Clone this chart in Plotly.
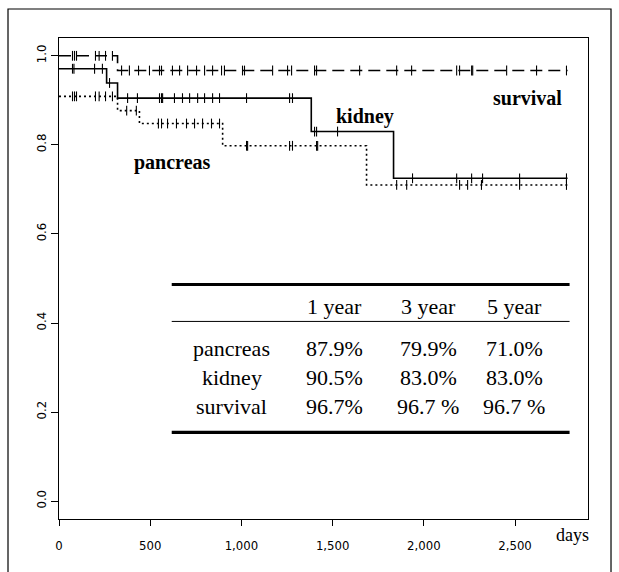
import plotly.graph_objects as go
import numpy as np

# ---- data ----
survival_t = [0, 321, 2788]
survival_s = [1.0, 0.967, 0.967]
kidney_t = [0, 261, 321, 1383, 1834, 2788]
kidney_s = [0.971, 0.939, 0.905, 0.830, 0.725, 0.725]
pancreas_t = [0, 321, 441, 897, 1686, 2788]
pancreas_s = [0.909, 0.877, 0.848, 0.798, 0.710, 0.710]

survival_censor = [74, 85, 96, 200, 220, 255, 293, 343, 386, 436, 496, 551, 562, 622, 661, 705,
                   754, 798, 842, 891, 907, 1006, 1017, 1171, 1253, 1275, 1401, 1412, 1648, 1851,
                   1933, 2180, 2196, 2262, 2268, 2454, 2618, 2782]
kidney_censor = [74, 82, 195, 238, 277, 376, 430, 551, 562, 568, 633, 677, 716, 760, 798, 842, 880,
                 1028, 1264, 1280, 1401, 1412, 1527, 1938, 2180, 2262, 2322, 2525, 2782]
pancreas_censor = [74, 85, 96, 200, 220, 255, 293, 371, 424, 545, 562, 595, 644, 699, 743, 787, 836,
                   880, 1028, 1034, 1264, 1280, 1412, 1418, 1851, 1906, 2196, 2240, 2316, 2525, 2782]

x_tickvals = [0, 500, 1000, 1500, 2000, 2500]
x_ticktext = ["0", "500", "1,000", "1,500", "2,000", "2,500"]
y_tickvals = [0.0, 0.2, 0.4, 0.6, 0.8, 1.0]
y_ticktext = ["0.0", "0.2", "0.4", "0.6", "0.8", "1.0"]

table_cols = ["1 year", "3 year", "5 year"]
table_rows = ["pancreas", "kidney", "survival"]
table_vals = [["87.9%", "79.9%", "71.0%"],
              ["90.5%", "83.0%", "83.0%"],
              ["96.7%", "96.7 %", "96.7 %"]]


def step_at(ts, ss, t):
    idx = np.searchsorted(ts, t, side="right") - 1
    return [ss[i] for i in idx]


fig = go.Figure()
series = [
    (survival_t, survival_s, survival_censor, "12px,6px"),
    (kidney_t, kidney_s, kidney_censor, "solid"),
    (pancreas_t, pancreas_s, pancreas_censor, "2px,3px"),
]
for ts, ss, cs, dash in series:
    fig.add_trace(go.Scatter(x=ts, y=ss, mode="lines", line=dict(color="black", width=1.6, dash=dash, shape="hv"),
                             showlegend=False, hoverinfo="skip"))
    fig.add_trace(go.Scatter(x=cs, y=step_at(ts, ss, cs), mode="markers",
                             marker=dict(symbol="line-ns", size=7, line=dict(color="black", width=1.1)),
                             showlegend=False, hoverinfo="skip"))

serif = "Liberation Serif, Times New Roman, serif"
narrow = "Liberation Sans Narrow, Arial Narrow, DejaVu Sans Condensed, sans-serif"

ann = []
ann.append(dict(x=2569, y=0.906, text="<b>survival</b>", showarrow=False, font=dict(family=serif, size=20, color="black")))
ann.append(dict(x=1675, y=0.863, text="<b>kidney</b>", showarrow=False, font=dict(family=serif, size=20, color="black")))
ann.append(dict(x=623, y=0.760, text="<b>pancreas</b>", showarrow=False, font=dict(family=serif, size=20, color="black")))

col_x = [1510, 2025, 2497]
label_x = 946
header_y = 0.437
row_y = [0.343, 0.278, 0.213]
for cx, c in zip(col_x, table_cols):
    ann.append(dict(x=cx, y=header_y, text=c, showarrow=False, font=dict(family=serif, size=22, color="black")))
for ry, rname, vals in zip(row_y, table_rows, table_vals):
    ann.append(dict(x=label_x, y=ry, text=rname, showarrow=False, font=dict(family=serif, size=22, color="black")))
    for cx, v in zip(col_x, vals):
        ann.append(dict(x=cx, y=ry, text=v, showarrow=False, font=dict(family=serif, size=22, color="black")))

ann.append(dict(x=1.006, y=-0.058, xref="paper", yref="paper", text="days", showarrow=False,
                font=dict(family=serif, size=18, color="black")))

shapes = [
    dict(type="line", x0=618, x1=2799, y0=0.4865, y1=0.4865, line=dict(color="black", width=3)),
    dict(type="line", x0=618, x1=2799, y0=0.4036, y1=0.4036, line=dict(color="black", width=1)),
    dict(type="line", x0=618, x1=2799, y0=0.1547, y1=0.1547, line=dict(color="black", width=3.2)),
    dict(type="rect", xref="paper", yref="paper", x0=-0.0964, x1=1.0435, y0=-0.3, y1=1.0603,
         line=dict(color="black", width=1.2)),
]

fig.update_layout(
    width=619, height=572,
    margin=dict(l=59, r=31, t=38, b=53),
    paper_bgcolor="white", plot_bgcolor="white",
    annotations=ann, shapes=shapes,
    xaxis=dict(range=[0, 2900], tickvals=x_tickvals, ticktext=x_ticktext, ticks="outside", ticklen=6,
               tickcolor="black", showline=True, linecolor="black", linewidth=1.3, mirror=True,
               showgrid=False, zeroline=False, tickfont=dict(family=narrow, size=13, color="black"),
               ticklabelstandoff=8),
    yaxis=dict(range=[-0.04, 1.04], tickvals=y_tickvals, ticktext=y_ticktext, ticks="outside", ticklen=7,
               tickcolor="black", showline=True, linecolor="black", linewidth=1.3, mirror=True,
               showgrid=False, zeroline=False, tickangle=-90, tickfont=dict(family=narrow, size=13, color="black")),
)

fig.write_html("out.html")
